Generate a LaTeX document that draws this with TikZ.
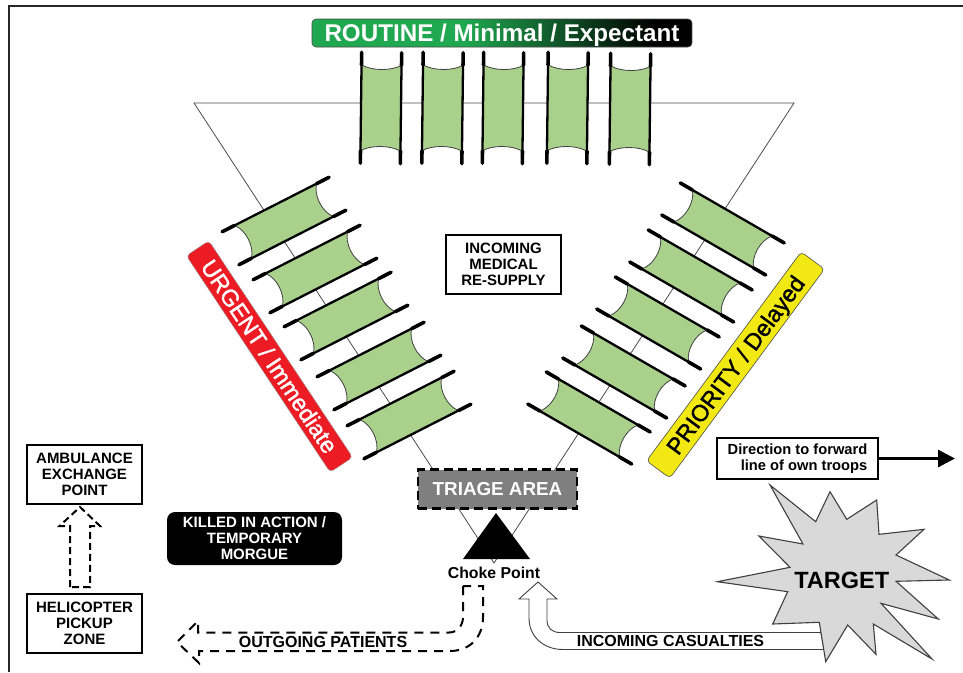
\documentclass[tikz,border=0pt]{standalone}
\usepackage{fontspec}
\setmainfont{Liberation Sans}
\newfontface\barfont[FakeBold=1.4]{Liberation Sans}
\usetikzlibrary{arrows.meta}
\definecolor{litter}{HTML}{A9D18C}
\definecolor{urgentred}{HTML}{ED1C24}
\definecolor{prioyellow}{HTML}{F2E914}
\definecolor{routinegreen}{HTML}{1FA84F}
\definecolor{triagegray}{HTML}{7F7F7F}
\definecolor{stargray}{HTML}{D9D9D9}
\pgfdeclarehorizontalshading{routineshade}{100bp}{color(0bp)=(routinegreen); color(45bp)=(routinegreen); color(70bp)=(black); color(100bp)=(black)}
\newcommand{\fsz}[2]{\fontsize{#1}{#2}\selectfont}
\newcommand{\litterat}[7]{% cx cy rot L B W sag
  \begin{scope}[shift={(#1,#2)},rotate=#3]
    \fill[litter] (-#5/2,-#6/2) .. controls (-#5/2+#7,-#6/4) and (-#5/2+#7,#6/4) .. (-#5/2,#6/2)
      -- (#5/2,#6/2) .. controls (#5/2-#7,#6/4) and (#5/2-#7,-#6/4) .. (#5/2,-#6/2) -- cycle;
    \draw[litterend] (-#5/2,-#6/2) .. controls (-#5/2+#7,-#6/4) and (-#5/2+#7,#6/4) .. (-#5/2,#6/2);
    \draw[litterend] (#5/2,-#6/2) .. controls (#5/2-#7,-#6/4) and (#5/2-#7,#6/4) .. (#5/2,#6/2);
    \draw[litterpole] (-#5/2,-#6/2) -- (#5/2,-#6/2);
    \draw[litterpole] (-#5/2,#6/2) -- (#5/2,#6/2);
    \draw[litterhandle] (-#4/2,-#6/2) -- (-#5/2,-#6/2);
    \draw[litterhandle] (#5/2,-#6/2) -- (#4/2,-#6/2);
    \draw[litterhandle] (-#4/2,#6/2) -- (-#5/2,#6/2);
    \draw[litterhandle] (#5/2,#6/2) -- (#4/2,#6/2);
  \end{scope}}
\tikzset{
  litterend/.style={draw=black!75,line width=0.8pt},
  litterpole/.style={draw=black,line width=2.3pt},
  litterhandle/.style={draw=black,line width=3.6pt,line cap=round},
  framing/.style={draw=black!85,line width=2.4pt},
  thinline/.style={draw=black!70,line width=0.8pt},
  whitebox/.style={draw=black,line width=2.8pt,fill=white,inner sep=0pt,align=center,font=\fsz{15}{16}\bfseries},
  dashflow/.style={draw=black,line width=2pt,dash pattern=on 9pt off 7pt},
  flowlabel/.style={inner sep=0pt,font=\fsz{16}{17}\bfseries}
}
\begin{document}
\begin{tikzpicture}[x=1pt,y=-1pt]
\useasboundingbox (0,0) rectangle (963,672);
\fill[white] (0,0) rectangle (963,672);
% frame
\coordinate (fa) at (9,672); \coordinate (fb) at (9,6); \coordinate (fc) at (963,6);
\draw[framing] (fa) -- (fb) -- (fc);
% sorting triangle
\coordinate (ta) at (194,103); \coordinate (tb) at (794,103); \coordinate (tc) at (494,563);
\draw[thinline] (ta) -- (tb) -- (tc) -- cycle;
% routine litters
\litterat{381}{108}{89.3}{111}{86}{40}{6}
\litterat{442.5}{108}{89.3}{111}{86}{40}{6}
\litterat{503}{108}{89.3}{111}{86}{40}{6}
\litterat{567.5}{108}{89.3}{111}{86}{40}{6}
\litterat{630}{109}{89.3}{111}{86}{40}{6}
% urgent litters
\litterat{284}{221}{27}{120}{92}{37}{8}
\litterat{315}{269}{27}{120}{92}{37}{8}
\litterat{346}{316}{27}{120}{92}{37}{8}
\litterat{379}{366}{27}{120}{92}{37}{8}
\litterat{409}{415}{27}{120}{92}{37}{8}
% priority litters
\litterat{723}{229}{-30}{120}{92}{37}{8}
\litterat{691}{276}{-30}{120}{92}{37}{8}
\litterat{658}{323}{-30}{120}{92}{37}{8}
\litterat{624}{372}{-30}{120}{92}{37}{8}
\litterat{589}{418}{-30}{120}{92}{37}{8}
% category bars
\node (routine) at (502,33) [rounded corners=4pt,draw=black!70,line width=0.6pt,shading=routineshade,minimum width=380pt,minimum height=28pt,inner sep=0pt,text=white,text height=17pt,text depth=0pt,font=\fsz{24.2}{26}\bfseries] {ROUTINE / Minimal / Expectant};
\node (urgent) at (269.5,356.5) [rotate=-56.4,rounded corners=4pt,draw=black!40,line width=0.4pt,fill=urgentred,minimum width=260pt,minimum height=27pt,inner sep=0pt,text=white,text height=16.5pt,text depth=0pt,font=\fsz{23.3}{25}\barfont] {URGENT / Immediate};
\node (priority) at (735.5,365) [rotate=53.5,rounded corners=4pt,draw=black!70,line width=0.6pt,fill=prioyellow,minimum width=260pt,minimum height=29pt,inner sep=0pt,text=black,text height=16.5pt,text depth=0pt,font=\fsz{23.3}{25}\barfont] {PRIORITY / Delayed};
% boxes
\node (supply) at (503.5,264.5) [whitebox,minimum width=115pt,minimum height=59pt] {INCOMING\\MEDICAL\\RE-SUPPLY};
\node (ambulance) at (84.5,474.5) [whitebox,minimum width=115pt,minimum height=59pt] {AMBULANCE\\EXCHANGE\\POINT};
\node (helicopter) at (84.5,623.5) [whitebox,minimum width=115pt,minimum height=59pt] {HELICOPTER\\PICKUP\\ZONE};
\node (morgue) at (254.5,538.5) [fill=black,rounded corners=8pt,minimum width=175pt,minimum height=53pt,inner sep=0pt,text=white,align=center,font=\fsz{15}{16}\bfseries] {KILLED IN ACTION /\\TEMPORARY\\MORGUE};
\node (triage) at (497.5,489) [draw=black,line width=2.6pt,dash pattern=on 9pt off 5pt,fill=triagegray,minimum width=159pt,minimum height=39pt,inner sep=0pt,text=white,font=\fsz{18.8}{21}\bfseries] {TRIAGE AREA};
\node (direction) at (797.5,458.5) [whitebox,minimum width=161pt,minimum height=41pt,align=right,font=\fsz{14.7}{15.5}\bfseries] {Direction to forward\\line of own troops};
% choke point
\coordinate (ca) at (496,513); \coordinate (cb) at (530,559); \coordinate (cc) at (463,559);
\fill[black] (ca) -- (cb) -- (cc) -- cycle;
\node (choke) at (494,573) [inner sep=0pt,font=\fsz{15.8}{17}\bfseries] {Choke Point};
% direction arrow
\coordinate (forward) at (955,458.5);
\draw[line width=3pt,-{Triangle[length=17pt,width=17pt]}] (direction.east) -- (forward);
% ambulance dashed block arrow
\coordinate (u1) at (70,587); \coordinate (u2) at (70,526); \coordinate (u3) at (59.5,526);
\coordinate (u4) at (80,507); \coordinate (u5) at (100,526); \coordinate (u6) at (90,526); \coordinate (u7) at (90,587);
\draw[line width=2pt,dash pattern=on 7pt off 4pt] (u1) -- (u2) -- (u3) -- (u4) -- (u5) -- (u6) -- (u7) -- cycle;
% incoming casualties
\coordinate (i0) at (538,582); \coordinate (i1) at (557,599); \coordinate (i2) at (547,599);
\coordinate (i3) at (547,620); \coordinate (i4) at (560,632.5); \coordinate (i5) at (821,632.5);
\coordinate (i6) at (824,649.5); \coordinate (i7) at (563,649.5); \coordinate (i8) at (529,618);
\coordinate (i9) at (529,599); \coordinate (i10) at (519,599);
\draw[draw=black!75,line width=0.9pt,fill=white,line join=miter] (i0) -- (i1) -- (i2) -- (i3) .. controls (547,628) and (552,632.5) .. (i4) -- (i5) -- (i6) -- (i7) .. controls (543,649.5) and (529,636) .. (i8) -- (i9) -- (i10) -- cycle;
\node (casualties) at (670.5,641) [flowlabel] {INCOMING CASUALTIES};
% target
\draw[draw=black!75,line width=1.1pt,fill=stargray,line join=miter]
 (770,485) -- (815.7,521.7) -- (830,491.7) -- (846.7,519.3) -- (876.7,500) -- (879,534.3) -- (924,529.3) -- (896,555)
 -- (949.3,580) -- (896,581.3) -- (938.3,619) -- (881,603.3) -- (932,659) -- (873.3,624) -- (876,654.3) -- (847.7,625)
 -- (825.7,661.7) -- (819.3,622.3) -- (772.7,624) -- (787.7,591.7) -- (717.3,581.7) -- (790,567.3) -- (759,536) -- (803,544) -- cycle;
\node (target) at (841.7,580) [inner sep=0pt,font=\fsz{23.5}{25}\bfseries] {TARGET};
% outgoing patients
\coordinate (o1) at (463,586); \coordinate (o2) at (463,617); \coordinate (o3) at (449,632.5);
\coordinate (o4) at (205,632.5); \coordinate (o5) at (198,632.5); \coordinate (o6) at (198,621);
\coordinate (o7) at (177,642); \coordinate (o8) at (199,663); \coordinate (o9) at (199,651);
\coordinate (o10) at (450,651); \coordinate (o11) at (483,617); \coordinate (o12) at (483,586);
\draw[dashflow] (o1) -- (o2) .. controls (463,626) and (457,632.5) .. (o3) -- (o4) -- (o5) -- (o6) -- (o7) -- (o8) -- (o9) -- (o10) .. controls (470,651) and (483,637) .. (o11) -- (o12) -- cycle;
\node (patients) at (323,642) [flowlabel] {OUTGOING PATIENTS};
\end{tikzpicture}
\end{document}
